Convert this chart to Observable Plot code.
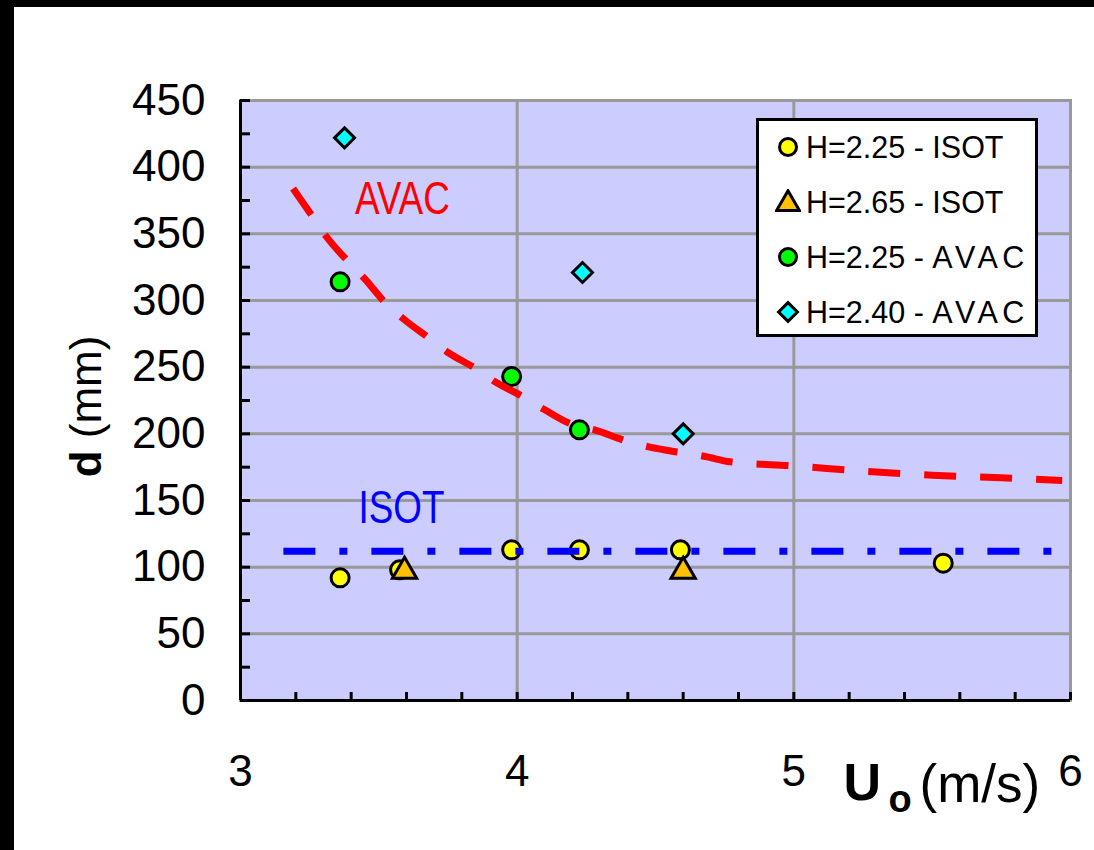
<!DOCTYPE html>
<html>
<head>
<meta charset="utf-8">
<script src="https://cdn.jsdelivr.net/npm/d3@7"></script>
<script src="https://cdn.jsdelivr.net/npm/@observablehq/plot@0.6"></script>
<style>
  body { margin: 0; background: #fff; }
  #wrap { position: relative; width: 1094px; height: 850px; overflow: hidden; background: #fff;
          font-family: "Liberation Sans", Arial, sans-serif; }
  .bar { position: absolute; background: #000; z-index: 3; }
  #chart { position: absolute; left: 0; top: 0; }
  #legend { position: absolute; left: 756px; top: 118px; width: 276px; height: 213px;
            border: 3px solid #000; background: #fff; z-index: 2; }
  .row { position: absolute; left: 0; height: 40px; display: flex; align-items: center;
         font-size: 30.5px; color: #000; white-space: nowrap; }
  .row svg { margin-left: 16px; margin-right: 5px; }
</style>
</head>
<body>
<div id="wrap">
  <div class="bar" style="left:0;top:0;width:1094px;height:7px"></div>
  <div class="bar" style="left:0;top:0;width:14px;height:850px"></div>
  <div id="chart"></div>
  <div id="legend"></div>
</div>
<script>
// ---- data ----
const isot225U = [3.36, 3.575, 3.98, 4.225, 4.59, 5.54];
const isot225D = [92, 98, 113, 113, 113, 103];
const isot265U = [3.593, 4.60];
const isot265D = [97, 97];
const avac225U = [3.36, 3.98, 4.225];
const avac225D = [314, 243, 203];
const avac240U = [3.376, 4.236, 4.60];
const avac240D = [422, 321, 200];
// fitted AVAC trend (red dashed)
const fitU = [3.19, 3.26, 3.31, 3.39, 3.45, 3.52, 3.59, 3.68, 3.75, 3.85, 3.92, 4.02, 4.10, 4.20, 4.28, 4.39, 4.48, 4.59, 4.68, 4.77, 5.0, 5.25, 5.5, 5.75, 5.97];
const fitD = [384, 363, 348, 329, 316, 299, 286, 272, 261, 249, 239, 228, 218, 207, 203, 195, 190, 186, 183, 179, 176, 172, 169, 167, 165];
// ISOT level (blue dash-dot)
const isotLineU = [3.155, 5.97];
const isotLineD = [112, 112];
// annotations
const annLabels = ["AVAC", "ISOT"];
const annU = [3.585, 3.582];
const annD = [376, 144];
const annColors = ["#ff0000", "#0000ff"];
// axes
const xTicks = [3, 4, 5, 6];
const yTicks = [0, 50, 100, 150, 200, 250, 300, 350, 400, 450];
const xMinor = d3.range(16).map(i => 3 + i * 0.2);
const yMinor = d3.range(19).map(i => i * 25);
// legend
const legendLabels = ["H=2.25 - ISOT", "H=2.65 - ISOT", "H=2.25 - AVAC", "H=2.40 - AVAC"];
const legendSymbols = ["circle", "triangle", "circle", "diamond2"];
const legendFills = ["#ffff00", "#ffc000", "#00ff00", "#00ffff"];

const rows = (u, d) => u.map((x, i) => ({u: x, d: d[i]}));
const ann = annLabels.map((t, i) => ({t, u: annU[i], d: annD[i], c: annColors[i]}));

const gridStyle = {stroke: "#999999", strokeOpacity: 1, strokeWidth: 3};
const dotStyle = {x: "u", y: "d", r: 9, stroke: "#000", strokeWidth: 3};
const font = "'Liberation Sans', Arial, sans-serif";

const chart = Plot.plot({
  width: 1094, height: 850,
  marginLeft: 240, marginTop: 100, marginRight: 24, marginBottom: 150,
  x: {domain: [3, 6]},
  y: {domain: [0, 450]},
  style: {fontFamily: font, background: "transparent", overflow: "visible", color: "#000"},
  marks: [
    Plot.frame({fill: "#ccccff", stroke: null}),
    Plot.gridX([4, 5], gridStyle),
    Plot.gridY(yTicks.filter(v => v > 0), gridStyle),
    Plot.frame({stroke: "#999999", strokeWidth: 3}),
    Plot.ruleX([3], {stroke: "#000", strokeWidth: 3}),
    Plot.ruleY([0], {stroke: "#000", strokeWidth: 3}),
    Plot.axisY(yMinor, {tickSize: -10, stroke: "#000", strokeOpacity: 1, strokeWidth: 3, fill: "none", label: null}),
    Plot.axisY(yTicks, {tickSize: 0, tickPadding: 35, fontSize: 44, label: null, fill: "#000", tickFormat: d => String(d)}),
    Plot.axisX(xMinor, {tickSize: -8, stroke: "#000", strokeOpacity: 1, strokeWidth: 3, fill: "none", label: null}),
    Plot.axisX(xTicks, {tickSize: 0, tickPadding: 54, fontSize: 44, label: null, fill: "#000", tickFormat: d => String(d)}),
    Plot.dot(rows(isot225U, isot225D), {...dotStyle, symbol: "circle", fill: "#ffff00"}),
    Plot.dot(rows(isot265U, isot265D), {...dotStyle, symbol: "triangle", fill: "#ffc000"}),
    Plot.dot(rows(avac225U, avac225D), {...dotStyle, symbol: "circle", fill: "#00ff00"}),
    Plot.dot(rows(avac240U, avac240D), {...dotStyle, symbol: "diamond2", fill: "#00ffff"}),
    Plot.line(rows(fitU, fitD), {x: "u", y: "d", stroke: "#ff0000", strokeWidth: 7, strokeDasharray: "32,24", curve: "monotone-x", strokeLinecap: "butt"}),
    Plot.line(rows(isotLineU, isotLineD), {x: "u", y: "d", stroke: "#0000ff", strokeWidth: 7, strokeDasharray: "32,24,8,24", strokeLinecap: "butt"}),
    Plot.text(ann, {x: "u", y: "d", text: "t", fill: "c", fontSize: 46, className: "ann"}),
    // y axis title (d bold + (mm) normal, split into tspans below)
    Plot.text(["d (mm)"], {text: d => d, frameAnchor: "left", textAnchor: "middle", rotate: -90, dx: -154, dy: 6, fontSize: 44, className: "ytitle"}),
    // x axis title
    Plot.text(["U"], {text: d => d, frameAnchor: "bottom", textAnchor: "start", dx: 188, dy: 99, fontSize: 52, fontWeight: "bold"}),
    Plot.text(["o"], {text: d => d, frameAnchor: "bottom", textAnchor: "start", dx: 233, dy: 111, fontSize: 38, fontWeight: "bold"}),
    Plot.text(["(m/s)"], {text: d => d, frameAnchor: "bottom", textAnchor: "start", dx: 264, dy: 101, fontSize: 53})
  ]
});
document.getElementById("chart").appendChild(chart);

// condensed look for the in-plot annotations
d3.select(chart).selectAll(".ann text").each(function () {
  const w = this.getComputedTextLength();
  this.setAttribute("textLength", (w * 0.8).toFixed(1));
  this.setAttribute("lengthAdjust", "spacingAndGlyphs");
});
// bold "d" in the y title
d3.select(chart).selectAll(".ytitle text").each(function () {
  const t = d3.select(this);
  const txt = t.text();
  t.text(null);
  t.append("tspan").attr("font-weight", "bold").text(txt.slice(0, 1));
  t.append("tspan").text(txt.slice(1));
});

// legend (HTML box with Plot-like symbols)
const legend = document.getElementById("legend");
const rowCenters = [26, 81, 136, 191];
legendLabels.forEach((lab, i) => {
  const row = document.createElement("div");
  row.className = "row";
  row.style.top = (rowCenters[i] - 20) + "px";
  const svg = d3.create("svg").attr("width", 26).attr("height", 26).attr("viewBox", "-13 -13 26 26");
  const sym = {circle: d3.symbolCircle, triangle: d3.symbolTriangle, diamond2: d3.symbolDiamond2}[legendSymbols[i]];
  const size = Math.PI * 8.5 * 8.5;
  svg.append("path").attr("d", d3.symbol(sym, size)())
    .attr("transform", legendSymbols[i] === "triangle" ? "translate(0,2)" : null)
    .attr("fill", legendFills[i]).attr("stroke", "#000").attr("stroke-width", 3);
  row.appendChild(svg.node());
  const span = document.createElement("span");
  const parts = lab.split(" - ");
  span.append(parts[0] + " - ");
  const tail = document.createElement("span");
  tail.textContent = parts[1];
  if (parts[1] === "AVAC") tail.style.letterSpacing = "4.5px";
  span.appendChild(tail);
  row.appendChild(span);
  legend.appendChild(row);
});
</script>
</body>
</html>
